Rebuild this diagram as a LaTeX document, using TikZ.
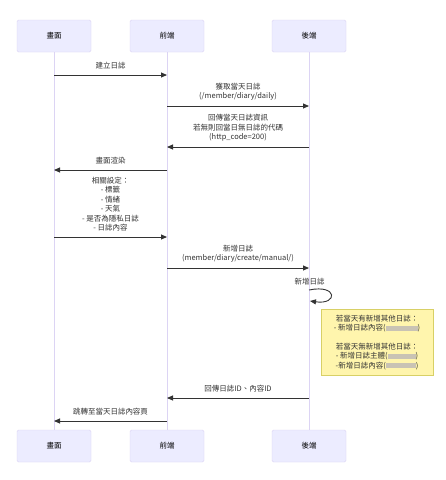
\documentclass[tikz,border=0pt]{standalone}
\usepackage{fontspec}
\setmainfont{Noto Sans CJK TC}
\usetikzlibrary{arrows.meta}
\definecolor{actorfill}{HTML}{ECECFF}
\definecolor{actordraw}{HTML}{DCD4F4}
\definecolor{lifecol}{HTML}{DCD4F4}
\definecolor{notefill}{HTML}{FFF5AD}
\definecolor{notedraw}{HTML}{D8D066}
\definecolor{msgcol}{HTML}{333333}
\definecolor{blurcol}{HTML}{C9C3B4}
\newcommand{\blurbox}[1]{\textcolor{blurcol}{\rule[-0.3pt]{#1}{5.5pt}}}
\tikzset{
  actor/.style={draw=actordraw, fill=actorfill, rounded corners=1.5pt, minimum width=74pt, minimum height=32pt, inner sep=0pt, text=black, font=\fontsize{7.5}{9.5}\selectfont},
  life/.style={draw=lifecol, line width=0.9pt},
  msg/.style={draw=msgcol, line width=0.9pt, -{Triangle[length=6pt,width=5pt]}},
  lbl/.style={text=msgcol, align=center, inner sep=0pt, font=\fontsize{7.5}{9.5}\selectfont},
  notebox/.style={draw=notedraw, fill=notefill, minimum width=112pt, minimum height=66pt, inner sep=0pt, align=center, text=msgcol, font=\fontsize{7.5}{9.3}\selectfont}
}
\begin{document}
\begin{tikzpicture}[x=1pt,y=-1pt]
\useasboundingbox[fill=white] (0,0) rectangle (446,480);
% actors
\node[actor] (s1) at (54,36) {畫面};
\node[actor] (f1) at (167,36) {前端};
\node[actor] (b1) at (309,36) {後端};
\node[actor] (s2) at (54,446) {畫面};
\node[actor] (f2) at (167,446) {前端};
\node[actor] (b2) at (309,446) {後端};
% lifelines
\draw[life] (s1.south) -- (s2.north);
\draw[life] (f1.south) -- (f2.north);
\draw[life] (b1.south) -- (b2.north);
% message endpoints
\coordinate (m1a) at (54,75);  \coordinate (m1b) at (167,75);
\coordinate (m2a) at (167,106); \coordinate (m2b) at (309,106);
\coordinate (m3a) at (309,147); \coordinate (m3b) at (167,147);
\coordinate (m4a) at (167,170); \coordinate (m4b) at (54,170);
\coordinate (m5a) at (54,237);  \coordinate (m5b) at (167,237);
\coordinate (m6a) at (167,268); \coordinate (m6b) at (309,268);
\coordinate (m7a) at (309,290); \coordinate (m7b) at (310,301);
\coordinate (m8a) at (309,398); \coordinate (m8b) at (167,398);
\coordinate (m9a) at (167,421); \coordinate (m9b) at (54,421);
% messages
\draw[msg] (m1a) -- (m1b) node[lbl, midway, above=5pt] {建立日誌};
\draw[msg] (m2a) -- (m2b) node[lbl, midway, above=5pt] {獲取當天日誌\\(/member/diary/daily)};
\draw[msg] (m3a) -- (m3b) node[lbl, midway, above=5pt] {回傳當天日誌資訊\\若無則回當日無日誌的代碼\\(http\_code=200)};
\draw[msg] (m4a) -- (m4b) node[lbl, midway, above=5pt] {畫面渲染};
\draw[msg] (m5a) -- (m5b) node[lbl, midway, above=5pt] {相關設定：\\- 標籤\\- 情緒\\- 天氣\\- 是否為隱私日誌\\- 日誌內容};
\draw[msg] (m6a) -- (m6b) node[lbl, midway, above=5pt] {新增日誌\\(member/diary/create/manual/)};
\node[lbl] (self) at (309.5,282) {新增日誌};
\draw[msg] (m7a) .. controls (338,284) and (338,305) .. (m7b);
% note
\node[notebox] (note) at (377,342.5) {若當天有新增其他日誌：\\- 新增日誌內容(\blurbox{32pt})\\[9.3pt]若當天無新增其他日誌：\\- 新增日誌主體(\blurbox{28pt})\\-新增日誌內容(\blurbox{30pt})};
\draw[msg] (m8a) -- (m8b) node[lbl, midway, above=5pt] {回傳日誌ID、內容ID};
\draw[msg] (m9a) -- (m9b) node[lbl, midway, above=5pt] {跳轉至當天日誌內容頁};
\end{tikzpicture}
\end{document}
